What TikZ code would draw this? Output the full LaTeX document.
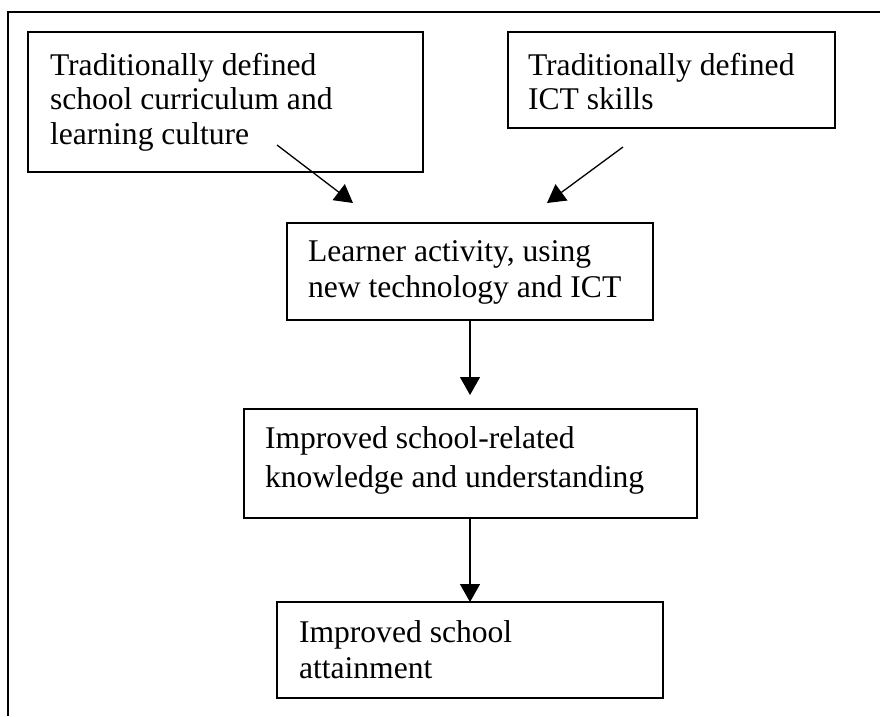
\documentclass[tikz,border=0pt]{standalone}
\usepackage{fontspec}
\setmainfont{Liberation Serif}
\usetikzlibrary{arrows.meta}
\begin{document}
\begin{tikzpicture}[x=1pt,y=-1pt,
  box/.style={draw, line width=1.3pt, rectangle, inner sep=0pt, outer sep=0pt},
  txt/.style={anchor=north west, inner sep=0pt, outer sep=0pt, align=left},
  arr/.style={line width=1.3pt, -{Triangle[length=18pt,width=20pt]}}]
\useasboundingbox (0,0) rectangle (880,716);
% outer frame (top and left only)
\draw[line width=1.5pt] (880,12) -- (8,12) -- (8,716);
% boxes
\node[box, minimum width=395pt, minimum height=140pt] (b1) at (225.5,102) {};
\node[box, minimum width=327pt, minimum height=96pt] (b2) at (671.5,80) {};
\node[box, minimum width=366pt, minimum height=97pt] (b3) at (470,271.5) {};
\node[box, minimum width=453pt, minimum height=109pt] (b4) at (470.5,463.5) {};
\node[box, minimum width=386pt, minimum height=96pt] (b5) at (470,650) {};
% texts
\node[txt, font=\fontsize{31.6}{34.2}\selectfont] (t1) at (50,53.5) {Traditionally defined\\school curriculum and\\learning culture};
\node[txt, font=\fontsize{31.6}{33.5}\selectfont] (t2) at (528,53.5) {Traditionally defined\\ICT skills};
\node[txt, font=\fontsize{31.6}{36.5}\selectfont] (t3) at (308,240.5) {Learner activity, using\\new technology and ICT};
\node[txt, font=\fontsize{31.6}{39}\selectfont] (t4) at (265,426.5) {Improved school-related\\knowledge and understanding};
\node[txt, font=\fontsize{31.6}{36}\selectfont] (t5) at (299,620.5) {Improved school\\attainment};
% connector end points
\coordinate (a1s) at (277,145);
\coordinate (a1e) at (353,203);
\coordinate (a2s) at (623,147);
\coordinate (a2e) at (547,203);
\coordinate (a3s) at (470,320);
\coordinate (a3e) at (470,395);
\coordinate (a4s) at (470,518);
\coordinate (a4e) at (470,602);
\draw[arr] (a1s) -- (a1e);
\draw[arr] (a2s) -- (a2e);
\draw[arr] (a3s) -- (a3e);
\draw[arr] (a4s) -- (a4e);
\end{tikzpicture}
\end{document}
